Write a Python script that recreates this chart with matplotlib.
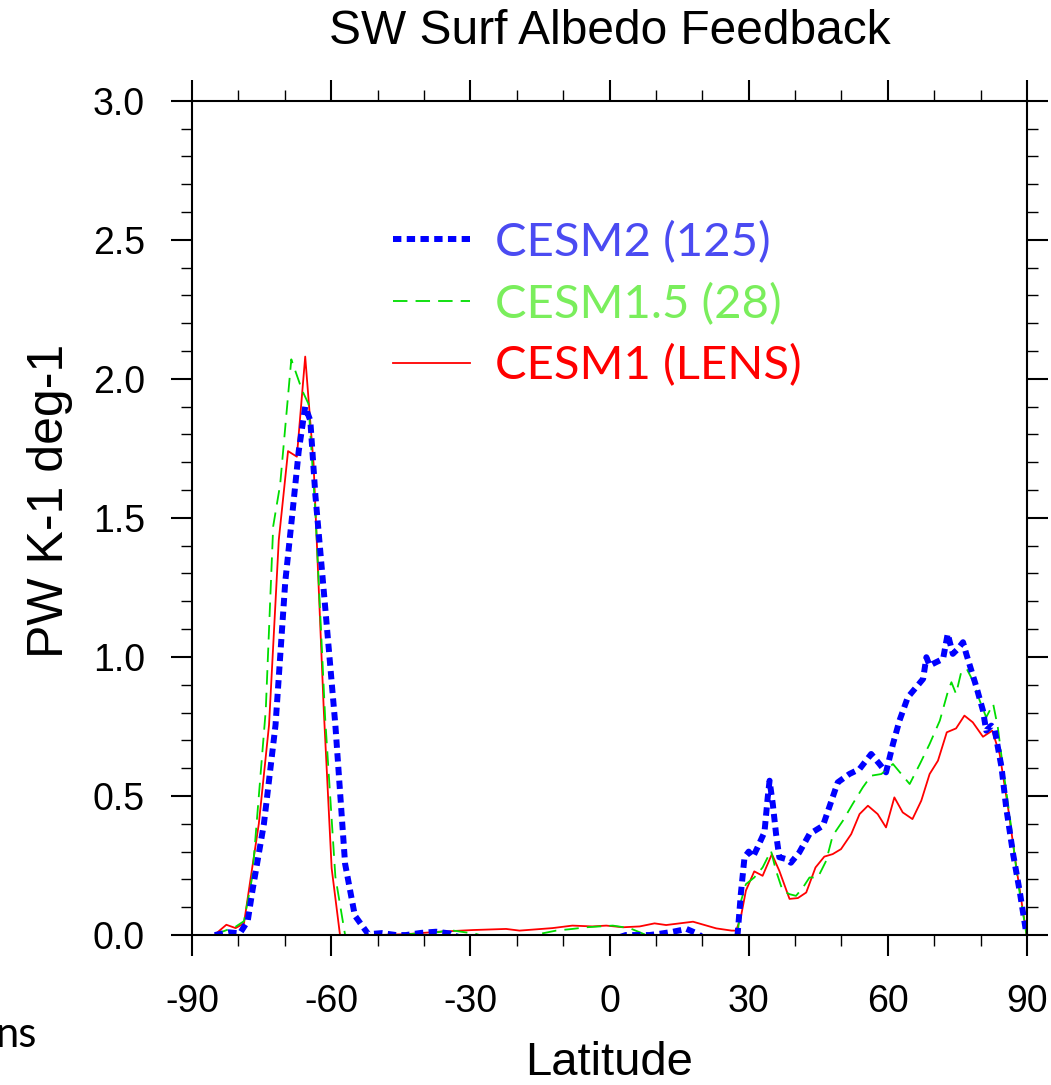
#!/usr/bin/env python3

import matplotlib
matplotlib.use("Agg")
import matplotlib.pyplot as plt
from matplotlib.lines import Line2D
from matplotlib.ticker import MultipleLocator

# CESM2 (125) feedback, PW K-1 deg-1
lat_cesm2 = [-85.1, -82.2, -79.7, -78.0, -77.0, -74.5, -72.0, -69.9, -68.4, -67.0,
             -65.6, -64.5, -63.4, -61.3, -59.1, -57.0, -54.9, -52.0, -49.1, -46.0,
             -43.9, -40.5, -37.4, -34.5, -33.9, -30.0, -20.0, -10.0, 0.0, 3.5,
             4.3, 8.6, 11.0, 13.7, 16.6, 19.1, 21.0, 26.0, 27.6,
             28.3, 29.1, 30.0, 30.9, 31.9, 33.4, 34.1, 34.5, 35.2, 35.9,
             36.6, 38.1, 39.1, 40.9, 43.1, 46.0, 49.2, 51.7, 53.9, 56.4,
             58.2, 59.6, 61.1, 62.5, 64.3, 66.1, 67.6, 68.3, 69.0, 70.4,
             71.9, 72.9, 74.0, 75.1, 76.2, 76.9, 78.0, 79.1, 80.5, 81.2,
             82.3, 83.0, 84.5, 85.5, 87.0, 88.4, 89.9]
val_cesm2 = [0.0, 0.01, 0.006, 0.05, 0.157, 0.40, 0.755, 1.27, 1.51, 1.74,
             1.90, 1.85, 1.58, 1.18, 0.755, 0.256, 0.07, 0.003, 0.007, 0.0,
             0.0, 0.008, 0.012, 0.006, 0.0, -0.02, -0.03, -0.03, -0.02, 0.0,
             0.0, 0.0, 0.005, 0.012, 0.022, 0.004, -0.02, -0.02, 0.0,
             0.147, 0.28, 0.30, 0.28, 0.315, 0.37, 0.495, 0.555, 0.47, 0.363,
             0.28, 0.273, 0.26, 0.297, 0.363, 0.393, 0.549, 0.579, 0.597, 0.651,
             0.615, 0.585, 0.687, 0.771, 0.855, 0.891, 0.921, 0.999, 0.969, 0.981,
             0.993, 1.083, 1.011, 1.029, 1.053, 1.011, 0.951, 0.891, 0.807, 0.735,
             0.753, 0.741, 0.603, 0.459, 0.291, 0.159, 0.0]

# CESM1.5 (28)
lat_cesm15 = [-85.2, -83.8, -80.6, -78.8, -77.0, -74.1, -72.5, -71.0, -68.6, -66.3,
              -64.9, -63.4, -61.3, -59.1, -57.0, -52.0, -45.0, -42.0, -39.6, -37.0,
              -34.5, -32.0, -28.8, -26.0, -20.0, -16.0, -15.1, -11.5, -8.0, -5.0,
              0.7, 4.3, 6.5, 7.9, 10.0, 20.0, 26.0, 27.6,
              28.3, 29.4, 31.2, 33.0, 34.8, 35.9, 37.3, 38.8, 40.2, 41.7,
              43.1, 44.9, 46.7, 48.1, 50.3, 52.4, 54.6, 56.4, 58.6, 61.1,
              62.9, 64.7, 66.9, 69.0, 71.2, 73.0, 73.7, 74.7, 75.8, 77.0,
              78.3, 79.8, 81.2, 82.7, 83.7, 84.8, 86.3, 88.0, 89.9]
val_cesm15 = [0.0, 0.01, 0.03, 0.05, 0.21, 0.81, 1.47, 1.62, 2.07, 1.96,
              1.91, 1.52, 0.78, 0.21, 0.0, -0.005, 0.0, 0.005, 0.013, 0.01,
              0.018, 0.012, 0.004, -0.01, -0.01, 0.0, 0.004, 0.016, 0.022, 0.028,
              0.034, 0.025, 0.01, 0.0, -0.01, -0.01, -0.01, 0.0,
              0.12, 0.183, 0.207, 0.243, 0.303, 0.231, 0.16, 0.147, 0.141, 0.171,
              0.207, 0.207, 0.267, 0.357, 0.411, 0.471, 0.531, 0.573, 0.579, 0.615,
              0.579, 0.543, 0.615, 0.687, 0.771, 0.879, 0.909, 0.867, 0.945, 0.957,
              0.915, 0.843, 0.783, 0.831, 0.747, 0.603, 0.423, 0.195, 0.0]

# CESM1 (LENS)
lat_cesm1 = [-85.2, -82.6, -80.6, -78.8, -77.4, -75.6, -73.4, -71.3, -69.3, -67.4,
             -65.6, -63.8, -61.6, -59.9, -58.1, -55.0, -50.0, -44.0, -40.0, -36.7,
             -29.5, -22.3, -19.4, -12.3, -8.0, -3.7, -0.7, 2.9, 6.5, 9.7,
             12.2, 18.0, 23.0, 26.3, 27.3,
             28.3, 29.4, 31.2, 33.0, 35.0, 36.6, 38.8, 40.6, 42.4, 44.4,
             46.3, 48.1, 49.9, 52.1, 53.9, 55.7, 57.8, 59.6, 61.4, 63.2,
             65.3, 67.2, 69.0, 70.8, 72.7, 74.7, 76.5, 78.3, 80.5, 82.5,
             84.1, 85.9, 87.7, 89.9]
val_cesm1 = [0.0, 0.037, 0.025, 0.042, 0.20, 0.40, 0.755, 1.42, 1.74, 1.72,
             2.08, 1.695, 0.81, 0.24, 0.0, 0.0, 0.0, 0.003, 0.008, 0.012,
             0.018, 0.022, 0.016, 0.025, 0.034, 0.031, 0.034, 0.028, 0.031, 0.042,
             0.036, 0.048, 0.024, 0.016, 0.016,
             0.064, 0.16, 0.229, 0.213, 0.291, 0.231, 0.13, 0.133, 0.153, 0.243,
             0.282, 0.291, 0.309, 0.363, 0.435, 0.465, 0.435, 0.387, 0.495, 0.441,
             0.417, 0.483, 0.579, 0.627, 0.729, 0.743, 0.789, 0.765, 0.713, 0.735,
             0.651, 0.459, 0.243, 0.0]

labels = ["CESM2 (125)", "CESM1.5 (28)", "CESM1 (LENS)"]
line_colors = ["#0000ff", "#00dd00", "#ff0000"]
text_colors = ["#4b4bf2", "#7aee5c", "#ff0000"]

xticks = [-90, -60, -30, 0, 30, 60, 90]
yticks = [0.0, 0.5, 1.0, 1.5, 2.0, 2.5, 3.0]

plt.rcParams['font.family'] = ['Liberation Sans', 'DejaVu Sans']

fig = plt.figure(figsize=(10.51, 10.85), dpi=100)
ax = fig.add_axes([0.1827, 0.1382, 0.7945, 0.7690])

ax.plot(lat_cesm1, val_cesm1, color=line_colors[2], lw=1.3)
ax.plot(lat_cesm15, val_cesm15, color=line_colors[1], lw=1.3,
        linestyle=(0, (8, 4.5)))
ax.plot(lat_cesm2, val_cesm2, color=line_colors[0], lw=4.3,
        linestyle=(0, (1.4, 0.9)))

ax.set_xlim(-90, 90)
ax.set_ylim(0, 3)
ax.set_xticks(xticks)
ax.set_xticklabels([str(t) for t in xticks])
ax.set_yticks(yticks)
ax.set_yticklabels(["%.1f" % t for t in yticks])
ax.xaxis.set_minor_locator(MultipleLocator(10))
ax.yaxis.set_minor_locator(MultipleLocator(0.1))

for s in ax.spines.values():
    s.set_linewidth(1.5)
ax.tick_params(which='both', direction='out', top=True, right=True,
               labeltop=False, labelright=False)
ax.tick_params(which='major', length=15, width=1.5, labelsize=27)
ax.tick_params(which='minor', length=8, width=1.0)
ax.tick_params(axis='x', which='major', pad=20)
ax.tick_params(axis='y', which='major', pad=19)

ax.set_xlabel("Latitude", fontsize=34, va='baseline')
ax.set_ylabel("PW K-1 deg-1", fontsize=36)
ax.xaxis.set_label_coords(0.5, (935 - 1075) / 834)
ax.yaxis.set_label_coords(-0.143, 0.52)

fig.text(0.5805, 0.971, "SW Surf Albedo Feedback", ha='center', va='center',
         fontsize=34.5)

# legend
handles = [
    Line2D([], [], color=line_colors[0], lw=4.3, linestyle=(0, (1.4, 0.9))),
    Line2D([], [], color=line_colors[1], lw=1.3, linestyle=(0, (8, 4.5))),
    Line2D([], [], color=line_colors[2], lw=1.3),
]
leg = ax.legend(handles, labels, loc='upper left', bbox_to_anchor=(0.2407, 0.856),
                frameon=False, handlelength=1.64, handletextpad=0.53,
                labelspacing=0.4, borderpad=0, borderaxespad=0,
                prop={'family': ['Lato', 'DejaVu Sans'], 'size': 34})
for t, c in zip(leg.get_texts(), text_colors):
    t.set_color(c)

# cut-off text at lower left of the original slide
fig.text(-0.005, 0.035, "ns", ha='left', va='baseline', fontsize=30,
         family=['Lato', 'DejaVu Sans'])

fig.savefig("out.png", dpi=100)
